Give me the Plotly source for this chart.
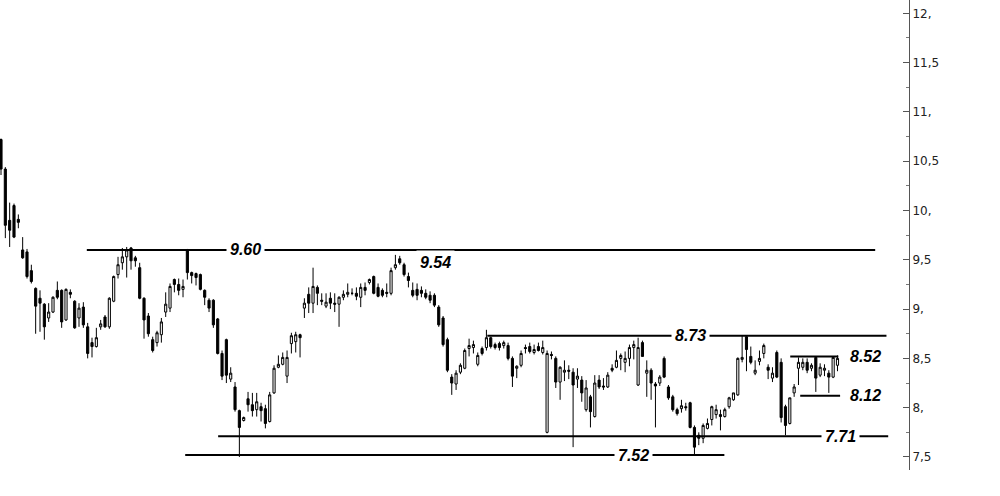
import plotly.graph_objects as go

# Daily OHLC series (price)
opens = [10.72, 10.42, 9.90, 10.05, 9.91, 9.60, 9.58, 9.39, 9.21, 9.11,
         9.05, 8.91, 8.97, 9.19, 9.19, 8.89, 9.17, 9.08, 8.91, 9.02,
         8.82, 8.66, 8.62, 8.82, 8.92, 8.82, 9.08, 9.35, 9.47, 9.53,
         9.62, 9.52, 9.42, 9.11, 8.93, 8.69, 8.66, 8.74, 8.97, 9.01,
         9.30, 9.25, 9.20, 9.60, 9.37, 9.36, 9.35, 9.19, 9.09, 9.09,
         8.90, 8.55, 8.69, 8.29, 8.21, 7.97, 7.87, 8.09, 8.03, 7.98,
         8.01, 7.99, 7.86, 8.15, 8.41, 8.44, 8.32, 8.65, 8.67, 8.74,
         9.01, 9.15, 9.06, 9.22, 9.09, 9.03, 9.11, 9.06, 9.05, 9.12,
         9.15, 9.16, 9.16, 9.12, 9.22, 9.27, 9.33, 9.22, 9.19, 9.17,
         9.16, 9.42, 9.51, 9.45, 9.33, 9.19, 9.20, 9.19, 9.16, 9.14,
         9.14, 9.02, 8.91, 8.69, 8.31, 8.24, 8.36, 8.40, 8.60, 8.61,
         8.44, 8.60, 8.61, 8.71, 8.64, 8.65, 8.63, 8.63, 8.50, 8.40,
         8.43, 8.61, 8.62, 8.56, 8.62, 8.56, 7.75, 8.54, 8.50, 8.26,
         8.36, 8.38, 8.36, 8.29, 8.28, 7.98, 8.11, 7.91, 8.28, 8.22,
         8.21, 8.40, 8.41, 8.50, 8.46, 8.50, 8.61, 8.23, 8.66, 8.35,
         8.38, 8.24, 8.25, 8.50, 8.21, 8.11, 7.98, 7.99, 8.01, 8.05,
         7.80, 7.72, 7.69, 7.79, 7.88, 7.93, 7.93, 7.91, 8.01, 8.08,
         8.13, 8.49, 8.72, 8.52, 8.35, 8.47, 8.55, 8.41, 8.30, 8.56,
         8.46, 8.01, 7.84, 8.15, 8.40, 8.41, 8.46, 8.40, 8.51, 8.33,
         8.38, 8.35, 8.31, 8.43]
highs = [10.73, 10.44, 10.08, 10.07, 9.96, 9.73, 9.61, 9.45, 9.22, 9.19,
         9.06, 9.06, 9.13, 9.28, 9.20, 9.21, 9.20, 9.09, 9.06, 9.07,
         8.86, 8.71, 8.81, 8.89, 8.94, 9.12, 9.34, 9.53, 9.62, 9.63,
         9.63, 9.54, 9.47, 9.12, 8.96, 8.72, 8.78, 8.91, 9.17, 9.26,
         9.31, 9.31, 9.30, 9.61, 9.38, 9.37, 9.36, 9.20, 9.11, 9.10,
         8.91, 8.58, 8.70, 8.41, 8.26, 7.98, 7.91, 8.16, 8.15, 8.15,
         8.05, 8.03, 8.16, 8.43, 8.53, 8.56, 8.58, 8.76, 8.77, 8.75,
         9.11, 9.22, 9.42, 9.24, 9.16, 9.16, 9.17, 9.16, 9.13, 9.19,
         9.26, 9.21, 9.22, 9.26, 9.27, 9.31, 9.34, 9.26, 9.21, 9.26,
         9.42, 9.55, 9.54, 9.47, 9.37, 9.27, 9.26, 9.23, 9.20, 9.18,
         9.16, 9.04, 8.93, 8.71, 8.34, 8.38, 8.45, 8.60, 8.70, 8.68,
         8.56, 8.62, 8.79, 8.72, 8.66, 8.67, 8.68, 8.66, 8.52, 8.43,
         8.58, 8.64, 8.66, 8.64, 8.66, 8.68, 8.58, 8.57, 8.52, 8.42,
         8.48, 8.43, 8.40, 8.40, 8.32, 8.28, 8.13, 8.33, 8.33, 8.30,
         8.36, 8.44, 8.58, 8.55, 8.57, 8.64, 8.68, 8.71, 8.68, 8.48,
         8.40, 8.26, 8.33, 8.52, 8.23, 8.13, 8.00, 8.08, 8.05, 8.06,
         7.82, 7.75, 7.84, 7.89, 8.02, 8.03, 7.98, 8.00, 8.11, 8.15,
         8.51, 8.73, 8.73, 8.62, 8.48, 8.58, 8.65, 8.44, 8.41, 8.58,
         8.50, 8.03, 8.10, 8.24, 8.51, 8.50, 8.50, 8.45, 8.52, 8.45,
         8.44, 8.38, 8.52, 8.53]
lows = [10.36, 9.72, 9.63, 9.72, 9.82, 9.51, 9.31, 9.26, 8.75, 8.77,
        8.69, 8.87, 8.96, 9.10, 8.81, 8.88, 9.11, 8.80, 8.82, 8.81,
        8.50, 8.51, 8.61, 8.79, 8.81, 8.80, 9.07, 9.31, 9.40, 9.32,
        9.40, 9.43, 9.10, 8.70, 8.72, 8.56, 8.62, 8.66, 8.92, 8.97,
        9.17, 9.14, 9.12, 9.30, 9.26, 9.24, 9.19, 9.04, 8.97, 8.81,
        8.54, 8.28, 8.25, 8.26, 7.96, 7.50, 7.86, 7.96, 7.91, 7.91,
        7.86, 7.79, 7.85, 8.14, 8.40, 8.43, 8.25, 8.55, 8.56, 8.51,
        8.91, 8.96, 8.96, 9.04, 9.04, 9.01, 9.00, 8.97, 8.82, 9.09,
        9.12, 9.14, 9.09, 9.02, 9.14, 9.25, 9.15, 9.12, 9.12, 9.12,
        9.14, 9.40, 9.45, 9.33, 9.22, 9.12, 9.09, 9.12, 9.10, 9.06,
        9.02, 8.82, 8.62, 8.36, 8.13, 8.18, 8.34, 8.39, 8.52, 8.55,
        8.42, 8.53, 8.58, 8.60, 8.59, 8.58, 8.60, 8.48, 8.21, 8.30,
        8.41, 8.55, 8.55, 8.54, 8.57, 8.54, 7.74, 8.49, 8.20, 8.08,
        8.27, 8.29, 7.60, 8.20, 8.06, 7.96, 7.80, 7.90, 8.19, 8.18,
        8.20, 8.36, 8.40, 8.38, 8.36, 8.42, 8.49, 8.22, 8.52, 8.11,
        8.08, 7.80, 8.22, 8.30, 8.08, 7.96, 7.92, 7.95, 7.97, 7.79,
        7.53, 7.62, 7.64, 7.78, 7.82, 7.89, 7.77, 7.90, 7.99, 8.07,
        8.12, 8.46, 8.37, 8.44, 8.33, 8.43, 8.50, 8.29, 8.26, 8.30,
        7.85, 7.72, 7.83, 8.11, 8.23, 8.38, 8.35, 8.37, 8.16, 8.31,
        8.32, 8.15, 8.30, 8.37]
closes = [10.42, 9.85, 9.80, 9.73, 9.88, 9.52, 9.33, 9.28, 9.03, 9.06,
          8.82, 8.97, 9.12, 9.12, 8.87, 9.20, 9.15, 8.81, 9.01, 8.84,
          8.55, 8.62, 8.71, 8.85, 8.82, 9.11, 9.33, 9.45, 9.53, 9.60,
          9.49, 9.49, 9.11, 8.89, 8.75, 8.58, 8.76, 8.87, 9.05, 9.23,
          9.25, 9.19, 9.23, 9.37, 9.34, 9.32, 9.20, 9.12, 9.01, 8.84,
          8.55, 8.32, 8.33, 8.35, 7.98, 7.80, 7.90, 8.03, 7.97, 8.06,
          7.97, 7.84, 8.13, 8.40, 8.44, 8.51, 8.51, 8.73, 8.74, 8.71,
          9.06, 9.06, 9.23, 9.16, 9.08, 9.07, 9.06, 9.05, 9.12, 9.15,
          9.17, 9.16, 9.13, 9.22, 9.19, 9.30, 9.16, 9.13, 9.14, 9.16,
          9.39, 9.45, 9.47, 9.35, 9.29, 9.14, 9.14, 9.16, 9.12, 9.09,
          9.04, 8.84, 8.64, 8.38, 8.25, 8.35, 8.43, 8.58, 8.63, 8.64,
          8.53, 8.55, 8.71, 8.62, 8.61, 8.61, 8.66, 8.50, 8.32, 8.42,
          8.55, 8.60, 8.57, 8.59, 8.58, 8.61, 8.55, 8.53, 8.26, 8.41,
          8.38, 8.37, 8.23, 8.32, 8.15, 8.20, 7.96, 8.25, 8.21, 8.21,
          8.33, 8.38, 8.48, 8.53, 8.50, 8.61, 8.64, 8.61, 8.52, 8.38,
          8.25, 8.22, 8.31, 8.31, 8.10, 7.98, 7.94, 8.02, 8.00, 7.80,
          7.60, 7.69, 7.82, 7.84, 8.01, 7.98, 7.91, 7.98, 8.10, 8.15,
          8.50, 8.51, 8.59, 8.46, 8.38, 8.50, 8.63, 8.38, 8.35, 8.31,
          7.90, 7.82, 8.10, 8.21, 8.46, 8.46, 8.38, 8.43, 8.30, 8.41,
          8.40, 8.31, 8.51, 8.50]
sessions = list(range(len(opens)))

# Support / resistance levels and their labels
levels = [9.60, 9.54, 8.73, 8.52, 8.12, 7.71, 7.52]
level_labels = ["9.60", "9.54", "8.73", "8.52", "8.12", "7.71", "7.52"]

# Price axis ticks
tick_values = [7.5, 8.0, 8.5, 9.0, 9.5, 10.0, 10.5, 11.0, 11.5, 12.0]
tick_labels = ["7,5", "8,", "8,5", "9,", "9,5", "10,", "10,5", "11,", "11,5", "12,"]

fig = go.Figure()
fig.add_trace(go.Candlestick(
    x=sessions, open=opens, high=highs, low=lows, close=closes,
    increasing=dict(line=dict(color="black", width=1), fillcolor="white"),
    decreasing=dict(line=dict(color="black", width=1), fillcolor="black"),
    whiskerwidth=0, showlegend=False, hoverinfo="skip",
))

# (x0, x1) extent of each level line in session units; None = label only
spans = [(19.8, 201.7), None, (112.2, 204.3), (182.1, 193.2), (184.4, 193.6),
         (50.1, 204.7), (42.5, 166.9)]
# label anchor: session x, xanchor, vertical pixel shift
label_pos = [(56.5, "center", 0), (95.8, "left", -7),
             (159.0, "center", 0), (195.0, "left", 0),
             (195.0, "left", 0), (193.6, "center", 0),
             (145.9, "center", 0)]

for lvl, txt, span, (lx, xa, ys) in zip(levels, level_labels, spans, label_pos):
    if span is not None:
        fig.add_shape(type="line", xref="x", yref="y", x0=span[0], x1=span[1],
                      y0=lvl, y1=lvl, line=dict(color="black", width=2), layer="above")
    fig.add_annotation(x=lx, y=lvl, xref="x", yref="y", text="<b><i>" + txt + "</i></b>",
                       showarrow=False, xanchor=xa, yanchor="middle", yshift=ys,
                       font=dict(family="Liberation Sans, Arial", size=16, color="black"),
                       bgcolor="white", borderpad=3)

fig.update_layout(
    width=1000, height=496,
    margin=dict(l=0, r=91, t=0, b=26),
    paper_bgcolor="white", plot_bgcolor="white",
    xaxis=dict(range=[-0.23, 209.5], visible=False, rangeslider=dict(visible=False),
               showgrid=False, zeroline=False),
    yaxis=dict(range=[7.368, 12.135], side="right", showgrid=False, zeroline=False,
               showline=True, linecolor="#555555", linewidth=1,
               tickmode="array", tickvals=tick_values, ticktext=tick_labels,
               ticks="inside", ticklen=6, tickcolor="#555555", tickwidth=1,
               tickfont=dict(family="DejaVu Sans, Verdana", size=12, color="#222222"),
               minor=dict(dtick=0.25, tick0=7.25, ticks="inside", ticklen=3,
                          tickcolor="#777777", showgrid=False)),
)

fig.write_html("out.html")
